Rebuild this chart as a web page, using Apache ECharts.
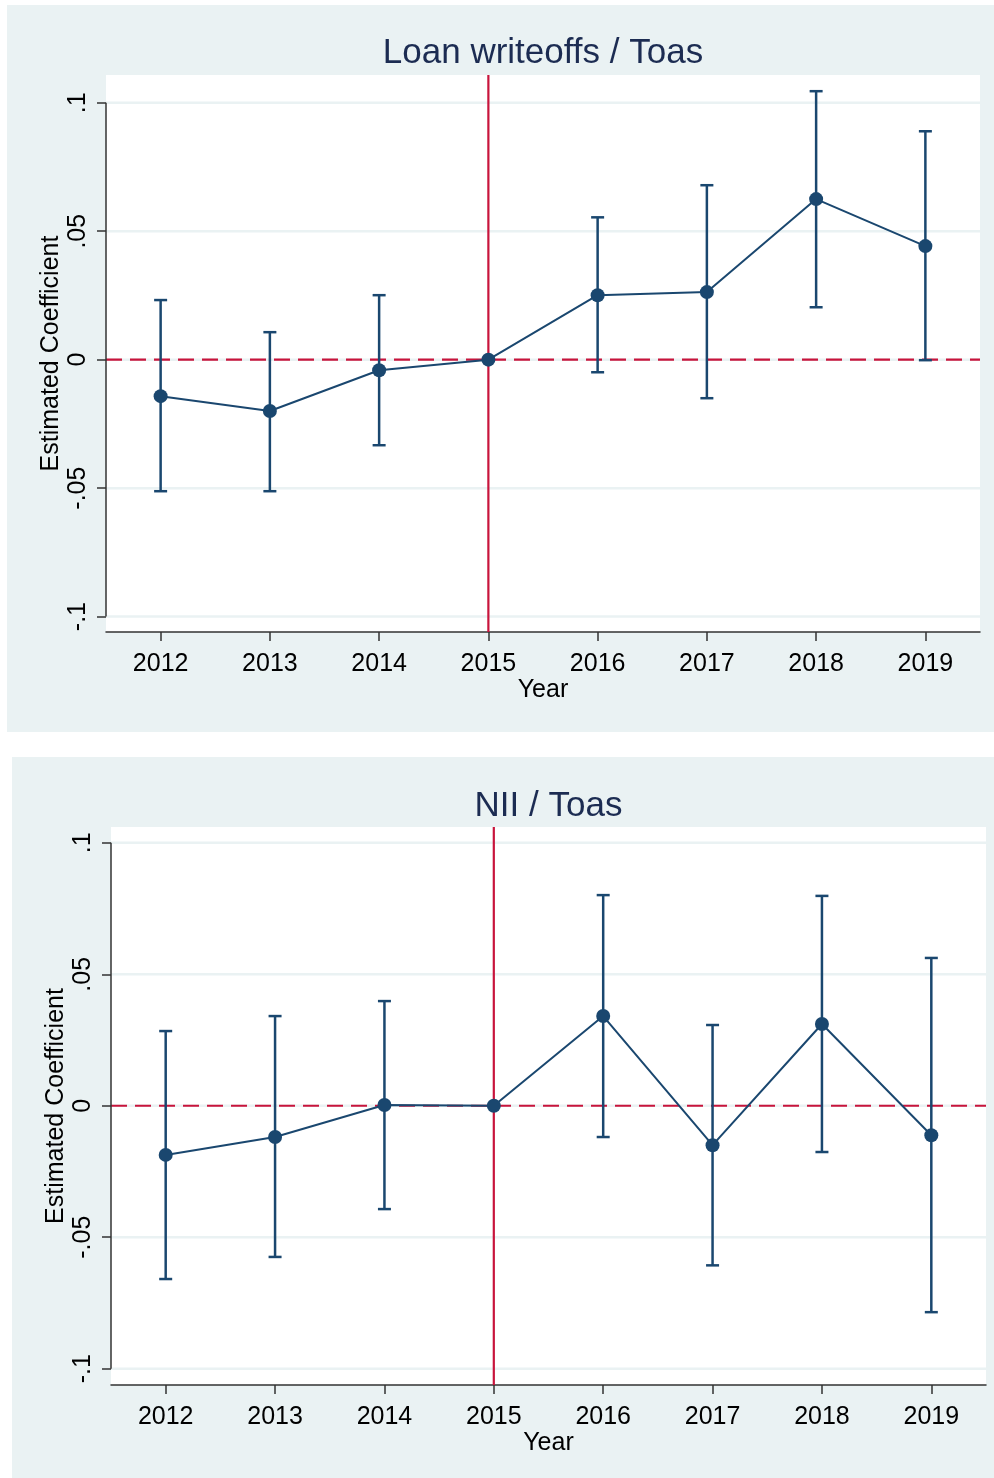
<!DOCTYPE html>
<html>
<head>
<meta charset="utf-8">
<script src="https://cdn.jsdelivr.net/npm/echarts@6/dist/echarts.min.js"></script>
<style>
  html, body { margin: 0; padding: 0; background: #ffffff; }
  #chart { width: 994px; height: 1478px; }
</style>
</head>
<body>
<div id="chart"></div>
<script>
// Event-study coefficients with 95% confidence intervals, base year 2015
const years = ['2012', '2013', '2014', '2015', '2016', '2017', '2018', '2019'];
const eventYear = '2015';
const yTicks = [-0.1, -0.05, 0, 0.05, 0.1];
const yTickLabels = ['-.1', '-.05', '0', '.05', '.1'];

// Loan writeoffs / Toas
const loanCoef = [-0.0142, -0.0200, -0.0041, 0, 0.0251, 0.0263, 0.0625, 0.0442];
const loanLow  = [-0.0512, -0.0512, -0.0333, null, -0.0049, -0.0150, 0.0204, -0.0002];
const loanHigh = [0.0232, 0.0107, 0.0251, null, 0.0554, 0.0679, 0.1045, 0.0889];

// NII / Toas
const niiCoef = [-0.0187, -0.0119, 0.0003, 0, 0.0341, -0.0150, 0.0311, -0.0112];
const niiLow  = [-0.0659, -0.0575, -0.0393, null, -0.0119, -0.0607, -0.0176, -0.0785];
const niiHigh = [0.0284, 0.0341, 0.0398, null, 0.0801, 0.0307, 0.0798, 0.0562];

const FONT = 'Liberation Sans, Arial, sans-serif';
const NAVY = '#1A476F';
const RED = '#C8143C';
const GRIDLINE = '#EAF2F3';
const AXIS = '#333333';
const LABEL_SIZE = 25;

const chart = echarts.init(document.getElementById('chart'), null, { renderer: 'canvas' });

function tickLabel(v) {
  for (let i = 0; i < yTicks.length; i++) {
    if (Math.abs(yTicks[i] - v) < 1e-9) return yTickLabels[i];
  }
  return '';
}

const panels = [
  { title: 'Loan writeoffs / Toas', coef: loanCoef, low: loanLow, high: loanHigh,
    grid: { left: 106, top: 75, width: 874, height: 557 },
    yMin: -0.1060, yMax: 0.1108, bg: { x: 7, y: 5, width: 987, height: 727 },
    titleY: 53, nameGap: 42, yLabelMargin: 15 },
  { title: 'NII / Toas', coef: niiCoef, low: niiLow, high: niiHigh,
    grid: { left: 111, top: 827, width: 875, height: 558 },
    yMin: -0.1062, yMax: 0.1060, bg: { x: 12, y: 757, width: 982, height: 721 },
    titleY: 806, nameGap: 42, yLabelMargin: 15 }
];

const grids = [], xAxes = [], yAxes = [], series = [], graphics = [];

panels.forEach((p, k) => {
  graphics.push({
    type: 'rect', z: -10, silent: true,
    shape: p.bg, style: { fill: '#EAF2F3' }
  });
  graphics.push({
    type: 'text', z: 10, silent: true,
    x: p.grid.left + p.grid.width / 2, y: p.titleY,
    style: { text: p.title, font: '35px ' + FONT, fill: '#1C2C52', align: 'center', verticalAlign: 'middle' }
  });

  grids.push(Object.assign({ show: true, backgroundColor: '#ffffff', borderWidth: 0, outerBoundsMode: 'none' }, p.grid));

  xAxes.push({
    gridIndex: k, type: 'category', data: years, boundaryGap: true,
    axisLine: { show: true, onZero: false, lineStyle: { color: AXIS, width: 1.5 } },
    axisTick: { show: true, alignWithLabel: true, length: 9, lineStyle: { color: AXIS, width: 1.5 } },
    axisLabel: { fontSize: LABEL_SIZE, fontFamily: FONT, color: '#000', margin: 20 },
    splitLine: { show: false },
    name: 'Year', nameLocation: 'middle', nameGap: 46, nameMoveOverlap: false,
    nameTextStyle: { fontSize: LABEL_SIZE, fontFamily: FONT, color: '#000' }
  });

  yAxes.push({
    gridIndex: k, type: 'value', min: p.yMin, max: p.yMax,
    axisLine: { show: false },
    axisTick: { show: true, customValues: yTicks, length: 9, lineStyle: { color: AXIS, width: 1.5 } },
    axisLabel: { customValues: yTicks, formatter: tickLabel, rotate: 90, fontSize: LABEL_SIZE, fontFamily: FONT, color: '#000', margin: p.yLabelMargin },
    splitLine: { show: false },
    name: 'Estimated Coefficient', nameLocation: 'middle', nameRotate: 90, nameGap: p.nameGap, nameMoveOverlap: false,
    nameTextStyle: { fontSize: LABEL_SIZE, fontFamily: FONT, color: '#000' }
  });

  // horizontal gridlines at each labelled tick
  series.push({
    type: 'custom', xAxisIndex: k, yAxisIndex: k, z: 1, silent: true,
    data: yTicks.map(v => [years[0], v]),
    renderItem(params, api) {
      const cs = params.coordSys;
      const y = api.coord([api.value(0), api.value(1)])[1];
      return { type: 'line', shape: { x1: cs.x, y1: y, x2: cs.x + cs.width, y2: y },
               style: { stroke: GRIDLINE, lineWidth: 2.5 } };
    }
  });

  // vertical axis line spanning the labelled range
  series.push({
    type: 'custom', xAxisIndex: k, yAxisIndex: k, z: 5, silent: true,
    data: [[years[0], yTicks[0], yTicks[yTicks.length - 1]]],
    renderItem(params, api) {
      const cs = params.coordSys;
      const y1 = api.coord([api.value(0), api.value(1)])[1];
      const y2 = api.coord([api.value(0), api.value(2)])[1];
      return { type: 'line', shape: { x1: cs.x, y1: y1, x2: cs.x, y2: y2 },
               style: { stroke: AXIS, lineWidth: 1.5 } };
    }
  });

  // zero reference line (dashed)
  series.push({
    type: 'custom', xAxisIndex: k, yAxisIndex: k, z: 2, silent: true,
    data: [[years[0], 0]],
    renderItem(params, api) {
      const cs = params.coordSys;
      const y = api.coord([api.value(0), api.value(1)])[1];
      return { type: 'line', shape: { x1: cs.x, y1: y, x2: cs.x + cs.width, y2: y },
               style: { stroke: RED, lineWidth: 2.2, lineDash: [16, 8] } };
    }
  });

  // event-year reference line
  series.push({
    type: 'custom', xAxisIndex: k, yAxisIndex: k, z: 2, silent: true,
    data: [[eventYear, 0]],
    renderItem(params, api) {
      const cs = params.coordSys;
      const x = api.coord([api.value(0), api.value(1)])[0];
      return { type: 'line', shape: { x1: x, y1: cs.y, x2: x, y2: cs.y + cs.height },
               style: { stroke: RED, lineWidth: 2.2 } };
    }
  });

  // confidence-interval whiskers
  series.push({
    type: 'custom', xAxisIndex: k, yAxisIndex: k, z: 3, silent: true,
    data: years.map((y, i) => [y, p.low[i], p.high[i]]).filter(d => d[1] != null),
    renderItem(params, api) {
      const xi = api.value(0);
      const lo = api.coord([xi, api.value(1)]);
      const hi = api.coord([xi, api.value(2)]);
      const cap = 6.5;
      const st = { stroke: NAVY, lineWidth: 2.5 };
      return { type: 'group', children: [
        { type: 'line', shape: { x1: lo[0], y1: lo[1], x2: hi[0], y2: hi[1] }, style: st },
        { type: 'line', shape: { x1: lo[0] - cap, y1: lo[1], x2: lo[0] + cap, y2: lo[1] }, style: st },
        { type: 'line', shape: { x1: hi[0] - cap, y1: hi[1], x2: hi[0] + cap, y2: hi[1] }, style: st }
      ] };
    }
  });

  // point estimates
  series.push({
    type: 'line', xAxisIndex: k, yAxisIndex: k, z: 4,
    data: p.coef,
    symbol: 'circle', symbolSize: 14, showSymbol: true,
    itemStyle: { color: NAVY },
    lineStyle: { color: NAVY, width: 2 }
  });
});

chart.setOption({
  animation: false,
  grid: grids,
  xAxis: xAxes,
  yAxis: yAxes,
  graphic: graphics,
  series: series
});
</script>
</body>
</html>
